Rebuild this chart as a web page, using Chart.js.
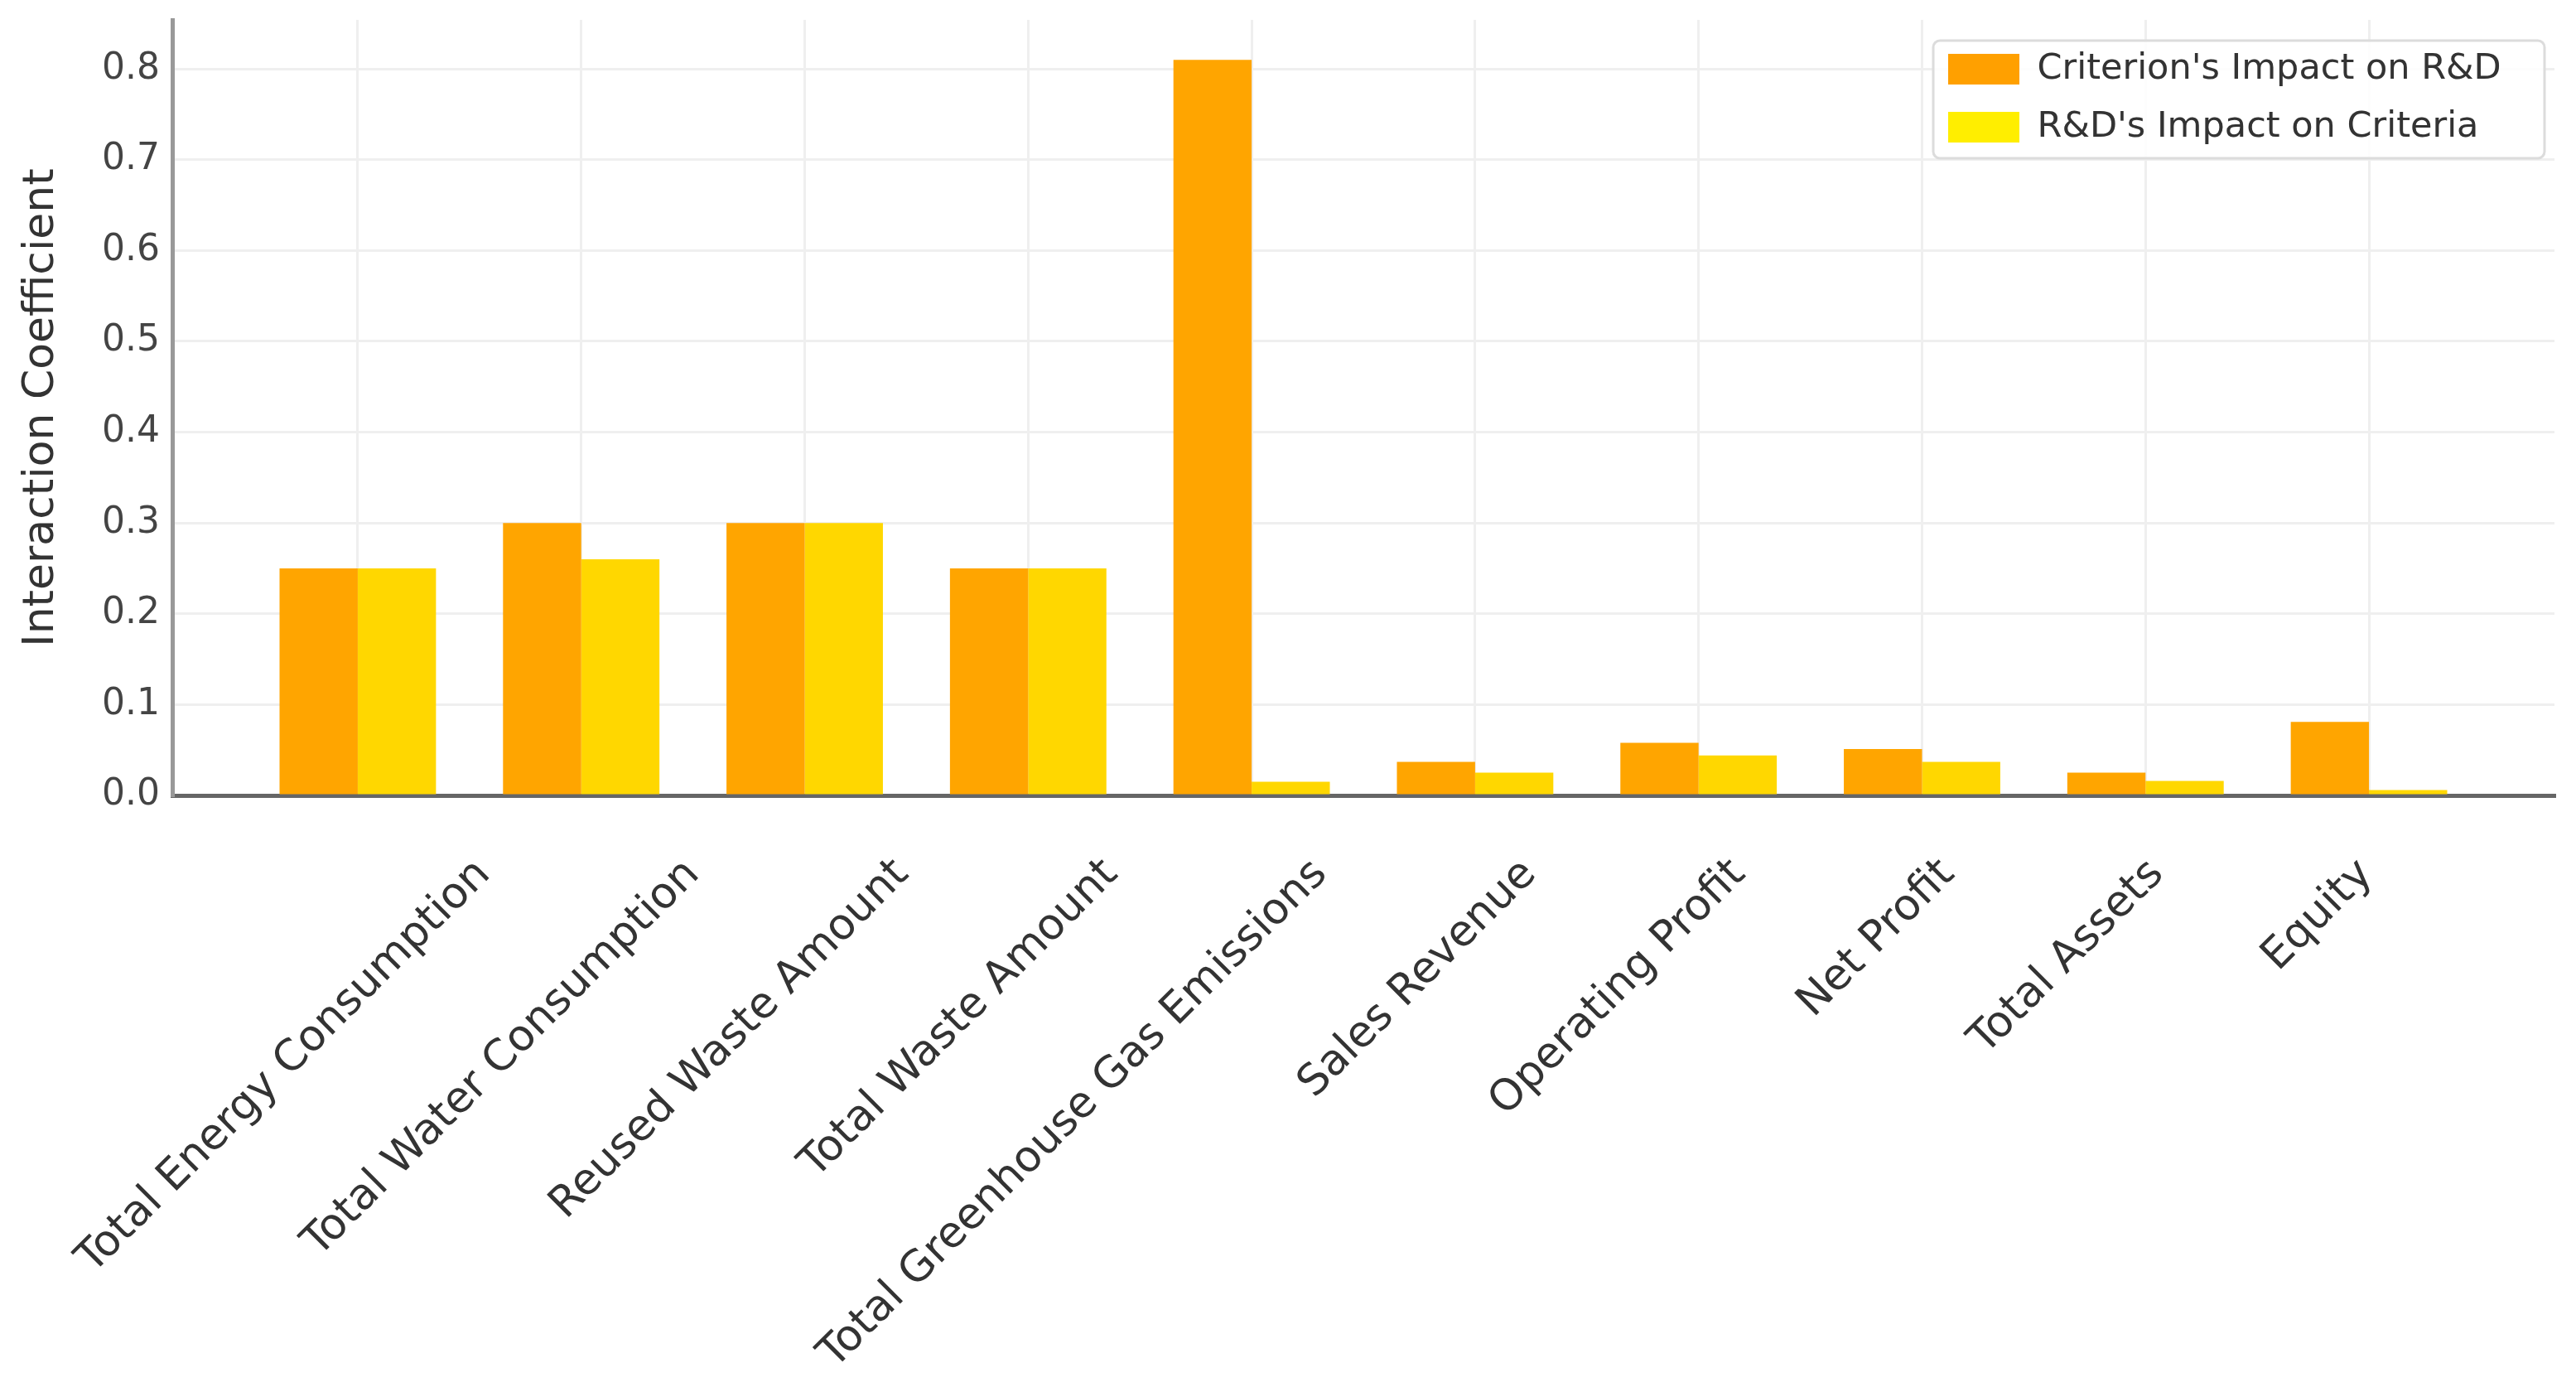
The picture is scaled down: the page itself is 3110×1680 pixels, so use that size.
<!DOCTYPE html>
<html>
<head>
<meta charset="utf-8">
<script src="https://cdn.jsdelivr.net/npm/chart.js@4.4.1/dist/chart.umd.min.js"></script>
<style>
body{margin:0;background:#fff;}
#wrap{width:3110px;height:1680px;position:relative;}
</style>
</head>
<body>
<div id="wrap"><canvas id="chart"></canvas></div>
<script>

let categories = [
"Total Energy Consumption",
"Total Water Consumption",
"Reused Waste Amount",
"Total Waste Amount",
"Total Greenhouse Gas Emissions",
"Sales Revenue",
"Operating Profit",
"Net Profit",
"Total Assets",
"Equity"
];

let criterionImpact = [0.25, 0.30, 0.30, 0.25, 0.81, 0.037, 0.058, 0.051, 0.025, 0.081];
let rdImpact = [0.25, 0.26, 0.30, 0.25, 0.015, 0.025, 0.044, 0.037, 0.016, 0.006];

let seriesNames = ["Criterion's Impact on R&D", "R&D's Impact on Criteria"];

let yTickValues = [0, 0.1, 0.2, 0.3, 0.4, 0.5, 0.6, 0.7, 0.8];

let barColors = ["#FFA500", "#FFD700"];
let legendSwatch = ["#FFA000", "#FFEE00"];

/* points on a linear x axis so the side margins can match the original */
function toPoints(values){
return values.map((v, i) => ({x: i, y: v}));
}

/* legend sits inside the plot, top right, with a light frame */
let legendInside = {
id: "legendInside",
afterLayout(chart){
let lg = chart.legend;
let ca = chart.chartArea;
lg.left = ca.right - 759;
lg.right = lg.left + 760;
lg.top = ca.top + 11;
lg.bottom = lg.top + 300;
},
afterDatasetsDraw(chart){
let ca = chart.chartArea;
let ctx = chart.ctx;
let x = ca.right - 750, y = ca.top + 25, w = 738, h = 142;
ctx.save();
ctx.fillStyle = "rgba(255,255,255,0.85)";
ctx.strokeStyle = "#dcdcdc";
ctx.lineWidth = 3;
ctx.beginPath();
ctx.roundRect(x, y, w, h, 8);
ctx.fill();
ctx.stroke();
ctx.restore();
chart.legend.draw();
}
};

let ctx = document.getElementById("chart").getContext("2d");

let chart = new Chart(ctx, {
type: "bar",
data: {
datasets: [{
label: seriesNames[0],
data: toPoints(criterionImpact),
backgroundColor: barColors[0],
borderWidth: 0
},{
label: seriesNames[1],
data: toPoints(rdImpact),
backgroundColor: barColors[1],
borderWidth: 0
}]
},
options: {
responsive: true,
maintainAspectRatio: false,
animation: false,
categoryPercentage: 0.7,
barPercentage: 1.0,
layout: {
padding: {left: 0, top: 24, right: 26, bottom: 0}
},
plugins: {
tooltip: {enabled: false},
legend: {
position: "chartArea",
align: "start",
labels: {
boxWidth: 86,
boxHeight: 37,
padding: 27,
textAlign: "left",
color: "#333",
font: {family: "DejaVu Sans", size: 43},
generateLabels: (c) => Chart.defaults.plugins.legend.labels.generateLabels(c).map((item, i) => {
item.fillStyle = legendSwatch[i];
item.lineWidth = 0;
return item;
})
}
}
},
scales: {
x: {
type: "linear",
position: "bottom",
min: -0.83,
max: 9.83,
offset: false,
afterBuildTicks: (axis) => { axis.ticks = categories.map((c, i) => ({value: i})); },
afterFit: (axis) => { axis.height = 0; },
ticks: {display: false},
grid: {offset: false, color: "#efefef", lineWidth: 3, drawTicks: false},
border: {color: "#666", width: 5}
},
xl: {
type: "linear",
position: "bottom",
min: -1.489,
max: 9.899,
offset: false,
afterBuildTicks: (axis) => { axis.ticks = categories.map((c, i) => ({value: i})); },
afterFit: (axis) => { axis.height = 720; axis.paddingLeft = 0; axis.paddingRight = 0; },
ticks: {
autoSkip: false,
minRotation: 45,
maxRotation: 45,
padding: 65,
color: "#333",
font: {family: "DejaVu Sans", size: 52},
callback: (value) => categories[value]
},
grid: {display: false, drawTicks: false},
border: {display: false}
},
y: {
min: 0,
max: 0.854,
afterBuildTicks: (axis) => { axis.ticks = yTickValues.map(v => ({value: v})); },
afterFit: (axis) => { axis.width = 208; axis.paddingTop = 0; axis.paddingBottom = 0; },
ticks: {
padding: 15,
color: "#444",
font: {family: "DejaVu Sans", size: 44},
callback: (value) => value.toFixed(1)
},
grid: {color: "#efefef", lineWidth: 3, drawTicks: false},
border: {color: "#999", width: 5},
title: {
display: true,
text: "Interaction Coefficient",
color: "#333",
font: {family: "DejaVu Sans", size: 52},
padding: {top: 19, bottom: 0}
}
}
}
},
plugins: [legendInside]
});

</script>
</body>
</html>
